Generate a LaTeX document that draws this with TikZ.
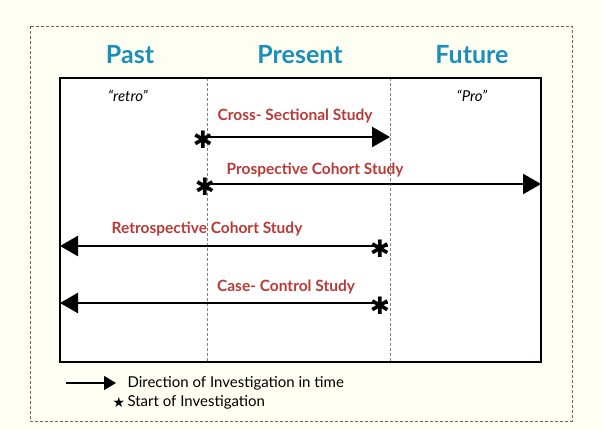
\documentclass[tikz,border=0pt]{standalone}
\usepackage{fontspec}
\setmainfont{Lato}
\newfontfamily\dejavu{DejaVu Sans}
\usetikzlibrary{arrows.meta}
\definecolor{bg}{HTML}{FEFEF2}
\definecolor{hd}{HTML}{1A8FBA}
\definecolor{rd}{HTML}{B83A36}
\begin{document}
\begin{tikzpicture}[x=1pt,y=-1pt,
  head/.style={text=hd,font=\bfseries\fontsize{25}{28}\selectfont},
  lab/.style={text=rd,font=\bfseries\fontsize{15.5}{17}\selectfont},
  arr/.style={line width=2.6pt,-{Triangle[length=18pt,width=20pt]}},
  star/.style={inner sep=0pt,font=\dejavu\fontsize{24}{24}\selectfont},
  leg/.style={anchor=west,font=\fontsize{15}{17}\selectfont},
  dv/.style={gray,densely dashed,line width=0.5pt}]
\fill[bg] (0,0) rectangle (602,430);
\useasboundingbox (0,0) rectangle (602,430);
\draw[gray!80!black,densely dashed,line width=0.6pt] (30,26) rectangle (572,421);
\fill[white] (60,78) rectangle (541,362);
\draw[dv] (207,78) -- (207,362);
\draw[dv] (390,78) -- (390,362);
\draw[line width=1.2pt] (60,78) rectangle (541,362);
\node[head] (past) at (130,55) {Past};
\node[head] (pres) at (300,55) {Present};
\node[head] (fut) at (472,55) {Future};
\node[font=\itshape\fontsize{15}{17}\selectfont] (retro) at (128,96) {“retro”};
\node[font=\itshape\fontsize{15}{17}\selectfont] (pro) at (472,96) {“Pro”};
% cross-sectional
\coordinate (c1) at (205,137); \coordinate (c2) at (390,137);
\draw[arr] (c1) -- (c2);
\node[star] (s1) at (203,140) {✱};
\node[lab] (l1) at (295,116) {Cross- Sectional Study};
% prospective
\coordinate (p1) at (205,184); \coordinate (p2) at (541,184);
\draw[arr] (p1) -- (p2);
\node[star] (s2) at (205,187) {✱};
\node[lab] (l2) at (315,170) {Prospective Cohort Study};
% retrospective
\coordinate (r1) at (388,246); \coordinate (r2) at (60,246);
\draw[arr] (r1) -- (r2);
\node[star] (s3) at (380,249) {✱};
\node[lab] (l3) at (207,229) {Retrospective Cohort Study};
% case control
\coordinate (k1) at (388,303); \coordinate (k2) at (60,303);
\draw[arr] (k1) -- (k2);
\node[star] (s4) at (380,306) {✱};
\node[lab] (l4) at (286,287) {Case- Control Study};
% legend
\coordinate (g1) at (66,383); \coordinate (g2) at (116,383);
\draw[line width=1.5pt,-{Triangle[length=12pt,width=14pt]}] (g1) -- (g2);
\node[leg] (t1) at (124,383) {Direction of Investigation in time};
\node[font=\dejavu\fontsize{14}{14}\selectfont,inner sep=0pt] (s5) at (119,402) {★};
\node[leg] (t2) at (124,402) {Start of Investigation};
\end{tikzpicture}
\end{document}
